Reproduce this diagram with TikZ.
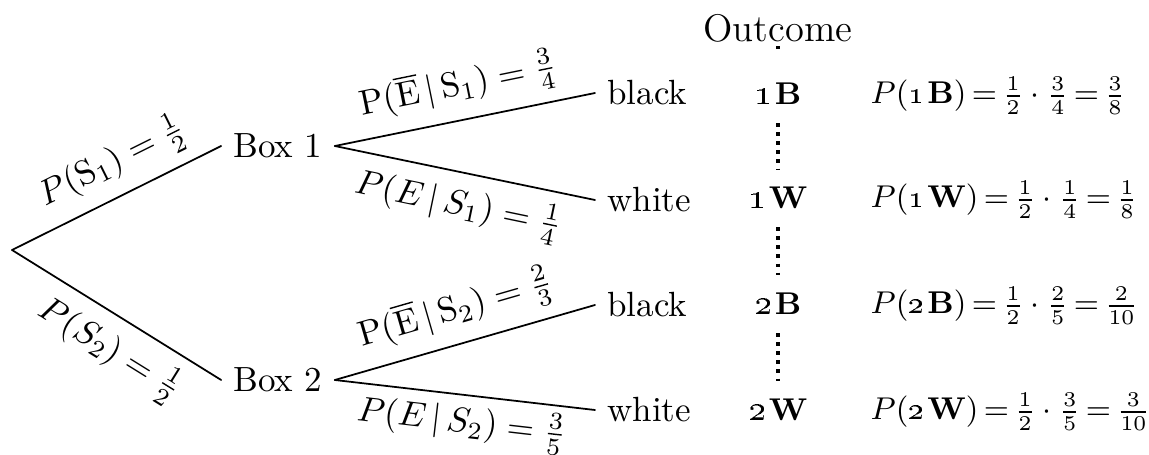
\documentclass[tikz,border=0pt]{standalone}
\usepackage{amsmath}
\newcommand{\outc}[2]{\textbf{\oldstylenums{#1}\kern.8pt{\small #2}}}
\begin{document}
\begin{tikzpicture}[x=0.2857pt,y=-0.2857pt,
  line cap=round,line join=round,
  every node/.style={font=\normalsize},
  L/.style={line width=.5pt},
  D/.style={line width=1pt,line cap=butt,dash pattern=on 1pt off 1.6pt},
  leaf/.style={anchor=west},
  oc/.style={inner sep=5pt},
  pr/.style={anchor=west,inner sep=0pt,font=\small}]
  \useasboundingbox (0,0) rectangle (1149,455);

  %% ---- tree nodes
  \coordinate (root) at (12,250);
  \node (box1) at (278,146) {Box 1};
  \node (box2) at (278,380) {Box 2};
  \node[leaf] (b1) at (595,93) {black};
  \node[leaf] (w1) at (595,200) {white};
  \node[leaf] (b2) at (595,305) {black};
  \node[leaf] (w2) at (595,410) {white};

  %% ---- branches with their probabilities
  \draw[L] (root) -- node[pos=.55,above,sloped] {$P(\mathrm{S}_1)=\frac{1}{2}$} (box1.west);
  \draw[L] (root) -- node[pos=.55,below,sloped] {$P(S_2)=\frac{1}{2}$} (box2.west);
  \draw[L] (box1.east) -- node[midway,above,sloped] {$\mathrm{P}(\overline{\mathrm{E}}\,|\,\mathrm{S}_1)=\frac{3}{4}$} (b1.west);
  \draw[L] (box1.east) -- node[midway,below,sloped] {$P(E\,|\,S_1)=\frac{1}{4}$} (w1.west);
  \draw[L] (box2.east) -- node[midway,above,sloped] {$\mathrm{P}(\overline{\mathrm{E}}\,|\,\mathrm{S}_2)=\frac{2}{3}$} (b2.west);
  \draw[L] (box2.east) -- node[midway,below,sloped,inner sep=2pt] {$P(E\,|\,S_2)=\frac{3}{5}$} (w2.west);

  %% ---- outcome column
  \node[font=\fontsize{11}{13}\selectfont] (out) at (778,28) {Outcome};
  \node[oc] (o1b) at (778,94) {\outc{1}{B}};
  \node[oc] (o1w) at (778,198) {\outc{1}{W}};
  \node[oc] (o2b) at (778,304) {\outc{2}{B}};
  \node[oc] (o2w) at (778,410) {\outc{2}{W}};
  \draw[D,shorten <=1.5pt,shorten >=6pt] (out) -- (o1b);
  \draw[D] (o1b) -- (o1w);
  \draw[D] (o1w) -- (o2b);
  \draw[D] (o2b) -- (o2w);

  %% ---- products
  \node[pr] (p1b) at (870,96) {\thickmuskip=3mu $P(\text{\outc{1}{B}})=\frac{1}{2}\cdot\frac{3}{4}=\frac{3}{8}$};
  \node[pr] (p1w) at (870,200) {\thickmuskip=3mu $P(\text{\outc{1}{W}})=\frac{1}{2}\cdot\frac{1}{4}=\frac{1}{8}$};
  \node[pr] (p2b) at (870,306) {\thickmuskip=3mu $P(\text{\outc{2}{B}})=\frac{1}{2}\cdot\frac{2}{5}=\frac{2}{10}$};
  \node[pr] (p2w) at (870,412) {\thickmuskip=3mu $P(\text{\outc{2}{W}})=\frac{1}{2}\cdot\frac{3}{5}=\frac{3}{10}$};
\end{tikzpicture}
\end{document}
